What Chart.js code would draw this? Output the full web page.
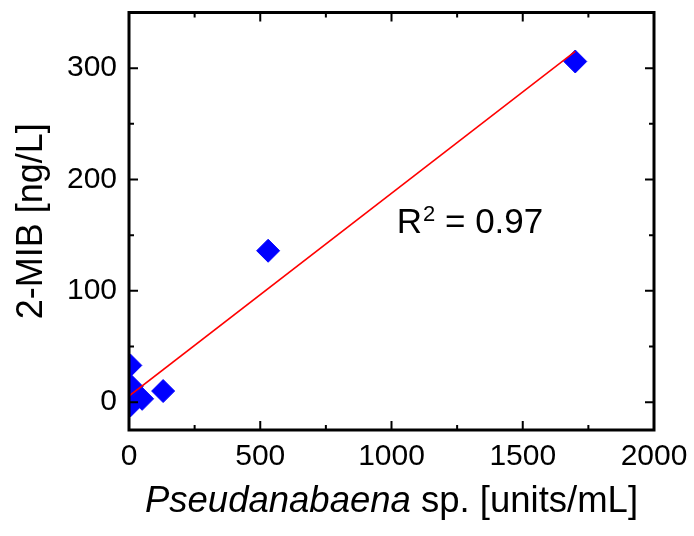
<!DOCTYPE html>
<html>
<head>
<meta charset="utf-8">
<script src="https://cdn.jsdelivr.net/npm/chart.js@4.4.1/dist/chart.umd.min.js"></script>
<style>
  body { margin: 0; background: #fff; }
  #wrap { width: 694px; height: 536px; }
</style>
</head>
<body>
<div id="wrap"><canvas id="scatterChart"></canvas></div>
<script>
// data
const xTicks = [0, 500, 1000, 1500, 2000]
const yTicks = [0, 100, 200, 300]
const cellCounts = [5, 10, 5, 50, 130, 530, 1700]
const mibValues = [33, 14, -3, 3, 10, 136, 306]
const fitX = [0, 1700]
const fitY = [5.5, 315]
const r2Text = "0.97"

const FONT = "'Liberation Sans', Arial, sans-serif"

// frame, inward ticks on all four sides, x title and R² note
const framePlugin = {
  id: "frame",
  afterDatasetsDraw(chart) {
    const ctx = chart.ctx
    const a = chart.chartArea
    const xs = chart.scales.x
    const ys = chart.scales.y
    ctx.save()
    ctx.strokeStyle = "#000"
    ctx.lineWidth = 2
    for (let v = 250; v < 2000; v += 250) {
      const px = xs.getPixelForValue(v)
      const len = v % 500 === 0 ? 9 : 5
      ctx.beginPath()
      ctx.moveTo(px, a.bottom)
      ctx.lineTo(px, a.bottom - len)
      ctx.moveTo(px, a.top)
      ctx.lineTo(px, a.top + len)
      ctx.stroke()
    }
    for (let v = 0; v < 350; v += 50) {
      const py = ys.getPixelForValue(v)
      const len = v % 100 === 0 ? 9 : 5
      ctx.beginPath()
      ctx.moveTo(a.left, py)
      ctx.lineTo(a.left + len, py)
      ctx.moveTo(a.right, py)
      ctx.lineTo(a.right - len, py)
      ctx.stroke()
    }
    ctx.lineWidth = 3
    ctx.strokeRect(a.left, a.top, a.right - a.left, a.bottom - a.top)

    // x axis title with italic genus name
    ctx.fillStyle = "#000"
    ctx.textBaseline = "alphabetic"
    const p1 = "Pseudanabaena"
    const p2 = " sp. [units/mL]"
    ctx.font = "italic 36.5px " + FONT
    const w1 = ctx.measureText(p1).width
    ctx.font = "36.5px " + FONT
    const w2 = ctx.measureText(p2).width
    let tx = (a.left + a.right) / 2 - (w1 + w2) / 2
    ctx.font = "italic 36.5px " + FONT
    ctx.fillText(p1, tx, 512)
    ctx.font = "36.5px " + FONT
    ctx.fillText(p2, tx + w1, 512)

    // R² annotation
    const rx = xs.getPixelForValue(1020)
    const ry = ys.getPixelForValue(152)
    ctx.font = "35px " + FONT
    ctx.fillText("R", rx, ry)
    const wr = ctx.measureText("R").width
    ctx.font = "22px " + FONT
    ctx.fillText("2", rx + wr + 1, ry - 12)
    const w2s = ctx.measureText("2").width
    ctx.font = "35px " + FONT
    ctx.fillText(" = " + r2Text, rx + wr + 1 + w2s, ry)
    ctx.restore()
  },
}

const ctx = document.getElementById("scatterChart").getContext("2d")

new Chart(ctx, {
  type: "scatter",
  data: {
    datasets: [
      {
        type: "line",
        data: fitX.map((x, i) => ({ x: x, y: fitY[i] })),
        borderColor: "#ff0000",
        borderWidth: 1.5,
        pointRadius: 0,
        fill: false,
      },
      {
        data: cellCounts.map((x, i) => ({ x: x, y: mibValues[i] })),
        pointStyle: "rectRot",
        pointRadius: 11.5,
        backgroundColor: "#0000ff",
        borderColor: "#0000ff",
        borderWidth: 1,
        clip: 0,
      },
    ],
  },
  options: {
    responsive: true,
    maintainAspectRatio: false,
    animation: false,
    layout: { padding: { left: 0, right: 40, top: 9, bottom: 0 } },
    plugins: {
      legend: { display: false },
      tooltip: { enabled: false },
    },
    scales: {
      x: {
        type: "linear",
        min: 0,
        max: 2000,
        grid: { display: false, drawTicks: false },
        border: { display: false },
        afterBuildTicks: (s) => {
          s.ticks = xTicks.map((v) => ({ value: v }))
        },
        afterFit: (s) => {
          s.height = 106
          s.paddingLeft = 0
          s.paddingRight = 0
        },
        ticks: {
          color: "#000",
          padding: 9,
          maxRotation: 0,
          font: { family: FONT, size: 30 },
          callback: (v) => String(v),
        },
      },
      y: {
        type: "linear",
        min: -25,
        max: 350,
        grid: { display: false, drawTicks: false },
        border: { display: false },
        afterBuildTicks: (s) => {
          s.ticks = yTicks.map((v) => ({ value: v }))
        },
        afterFit: (s) => {
          s.width = 129
          s.paddingTop = 0
          s.paddingBottom = 0
        },
        title: {
          display: true,
          text: "2-MIB [ng/L]",
          color: "#000",
          font: { family: FONT, size: 36 },
          padding: { top: 10, bottom: 0 },
        },
        ticks: {
          color: "#000",
          padding: 12,
          font: { family: FONT, size: 30 },
          callback: (v) => String(v),
        },
      },
    },
  },
  plugins: [framePlugin],
})
</script>
</body>
</html>
